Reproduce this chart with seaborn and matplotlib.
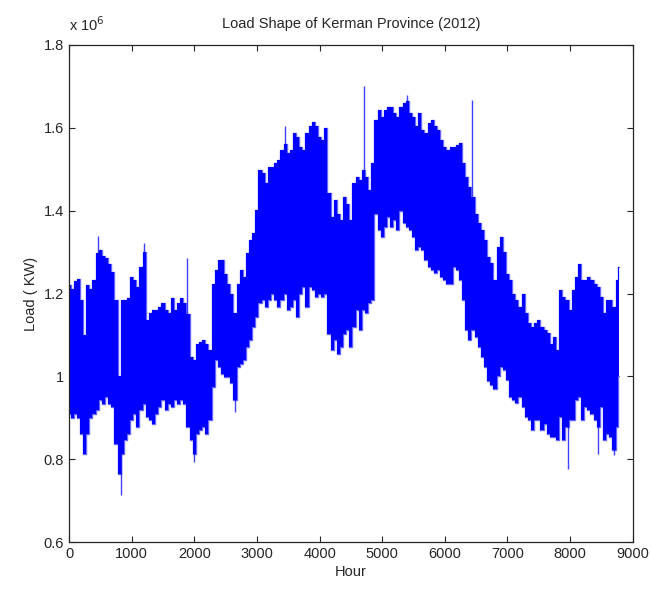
import numpy as np
import seaborn as sns
import matplotlib.pyplot as plt
from matplotlib.ticker import FuncFormatter

# hourly load of Kerman province, 2012 -- band envelope (x 10^6 KW)
hours = list(range(0, 8800, 50)) + [8783]

upper = [1.22, 1.21, 1.23, 1.236, 1.184, 1.10, 1.22, 1.21, 1.232, 1.297,
         1.305, 1.29, 1.285, 1.272, 1.252, 1.184, 1.00, 1.184, 1.184, 1.19,
         1.24, 1.232, 1.216, 1.265, 1.30, 1.136, 1.152, 1.16, 1.16, 1.168,
         1.176, 1.16, 1.152, 1.19, 1.16, 1.176, 1.19, 1.176, 1.15, 1.047,
         1.04, 1.079, 1.083, 1.087, 1.079, 1.063, 1.224, 1.256, 1.28, 1.28,
         1.248, 1.224, 1.20, 1.152, 1.224, 1.256, 1.24, 1.297, 1.329, 1.345,
         1.401, 1.498, 1.49, 1.466, 1.506, 1.506, 1.514, 1.522, 1.546, 1.56,
         1.538, 1.546, 1.587, 1.578, 1.554, 1.546, 1.587, 1.603, 1.615, 1.603,
         1.578, 1.57, 1.599, 1.442, 1.385, 1.425, 1.393, 1.377, 1.434, 1.417,
         1.377, 1.466, 1.482, 1.474, 1.498, 1.482, 1.45, 1.514, 1.619, 1.643,
         1.627, 1.643, 1.651, 1.651, 1.635, 1.627, 1.651, 1.659, 1.665, 1.635,
         1.627, 1.603, 1.635, 1.595, 1.587, 1.611, 1.619, 1.603, 1.595, 1.571,
         1.554, 1.546, 1.554, 1.554, 1.558, 1.562, 1.514, 1.482, 1.458, 1.434,
         1.393, 1.369, 1.353, 1.329, 1.289, 1.273, 1.232, 1.313, 1.337, 1.30,
         1.248, 1.232, 1.20, 1.184, 1.168, 1.20, 1.152, 1.128, 1.12, 1.128,
         1.136, 1.12, 1.112, 1.104, 1.079, 1.096, 1.063, 1.208, 1.192, 1.184,
         1.16, 1.208, 1.24, 1.272, 1.232, 1.232, 1.24, 1.232, 1.224, 1.216,
         1.192, 1.152, 1.184, 1.184, 1.168, 1.232, 1.265]

lower = [0.91, 0.90, 0.91, 0.90, 0.862, 0.814, 0.862, 0.90, 0.91, 0.918,
         0.942, 0.934, 0.95, 0.934, 0.926, 0.838, 0.765, 0.814, 0.846, 0.862,
         0.894, 0.91, 0.878, 0.918, 0.934, 0.902, 0.894, 0.886, 0.91, 0.926,
         0.942, 0.918, 0.934, 0.926, 0.942, 0.934, 0.942, 0.934, 0.878, 0.846,
         0.814, 0.862, 0.87, 0.878, 0.862, 0.894, 0.975, 1.039, 1.023, 1.007,
         0.999, 0.999, 0.983, 0.942, 1.023, 1.031, 1.039, 1.071, 1.087, 1.12,
         1.144, 1.176, 1.184, 1.168, 1.184, 1.20, 1.184, 1.168, 1.184, 1.20,
         1.16, 1.168, 1.184, 1.144, 1.20, 1.216, 1.168, 1.216, 1.208, 1.192,
         1.20, 1.192, 1.20, 1.103, 1.063, 1.087, 1.055, 1.071, 1.103, 1.111,
         1.071, 1.12, 1.16, 1.112, 1.16, 1.152, 1.176, 1.184, 1.393, 1.353,
         1.337, 1.361, 1.385, 1.361, 1.377, 1.353, 1.40, 1.369, 1.361, 1.353,
         1.337, 1.305, 1.313, 1.305, 1.281, 1.265, 1.257, 1.249, 1.257, 1.24,
         1.232, 1.224, 1.224, 1.265, 1.257, 1.232, 1.184, 1.112, 1.087, 1.112,
         1.096, 1.071, 1.047, 1.023, 0.99, 0.98, 0.97, 1.00, 1.023, 1.015,
         0.991, 0.951, 0.943, 0.935, 0.951, 0.927, 0.902, 0.894, 0.87, 0.894,
         0.894, 0.87, 0.886, 0.862, 0.854, 0.854, 0.846, 0.902, 0.846, 0.878,
         0.894, 0.894, 0.943, 0.951, 0.894, 0.927, 0.918, 0.91, 0.894, 0.878,
         0.927, 0.846, 0.862, 0.854, 0.822, 0.878, 1.00]

# isolated single-hour spikes (hour, load x 10^6 KW) and the band level they start from
spike_hours = [470, 1200, 1890, 3450, 4713, 5400, 6426, 830, 2000, 2650, 7960, 8450, 8700]
spike_peaks = [1.338, 1.321, 1.285, 1.603, 1.701, 1.68, 1.667, 0.713, 0.794, 0.914, 0.777, 0.814, 0.81]
spike_bases = [1.20, 1.20, 1.10, 1.40, 1.40, 1.55, 1.40, 0.90, 0.95, 1.05, 0.95, 0.95, 0.95]

sns.set_style("ticks")
plt.rcParams['font.family'] = ['Liberation Sans', 'DejaVu Sans']

fig = plt.figure(figsize=(6.51, 5.90), dpi=100)
ax = fig.add_axes([0.106, 0.081, 0.866, 0.843])

ax.fill_between(hours, lower, upper, color='#0000ff', lw=0, step='mid')
sns.lineplot(x=hours, y=upper, ax=ax, color='#0000ff', lw=1.0, alpha=0.6,
             drawstyle='steps-mid')
sns.lineplot(x=hours, y=lower, ax=ax, color='#0000ff', lw=1.0, alpha=0.6,
             drawstyle='steps-mid')
ax.vlines(spike_hours, spike_bases, spike_peaks, color='#0000ff', lw=1.0, alpha=0.75)

ax.set_xlim(0, 9000)
ax.set_ylim(0.6, 1.8)
ax.set_xticks(np.arange(0, 9001, 1000))
ax.set_yticks(np.arange(0.6, 1.81, 0.2))
ax.yaxis.set_major_formatter(FuncFormatter(lambda v, p: '%g' % round(v, 1)))

ax.tick_params(direction='in', top=True, right=True, length=4, width=0.8,
               labelsize=10.5, colors='#262626')
for s in ax.spines.values():
    s.set_visible(True)
    s.set_color('#262626')
    s.set_linewidth(0.9)

ax.set_title('Load Shape of Kerman Province (2012)', fontsize=10.5, color='#262626', pad=12)
ax.set_xlabel('Hour', fontsize=10.5, color='#262626', labelpad=3)
ax.set_ylabel('Load ( KW)', fontsize=10.5, color='#262626', labelpad=4)
ax.text(0.0, 1.022, r'x 10$^6$', transform=ax.transAxes, fontsize=10.5,
        color='#262626', va='bottom', ha='left')

fig.savefig('out.png', dpi=100)
